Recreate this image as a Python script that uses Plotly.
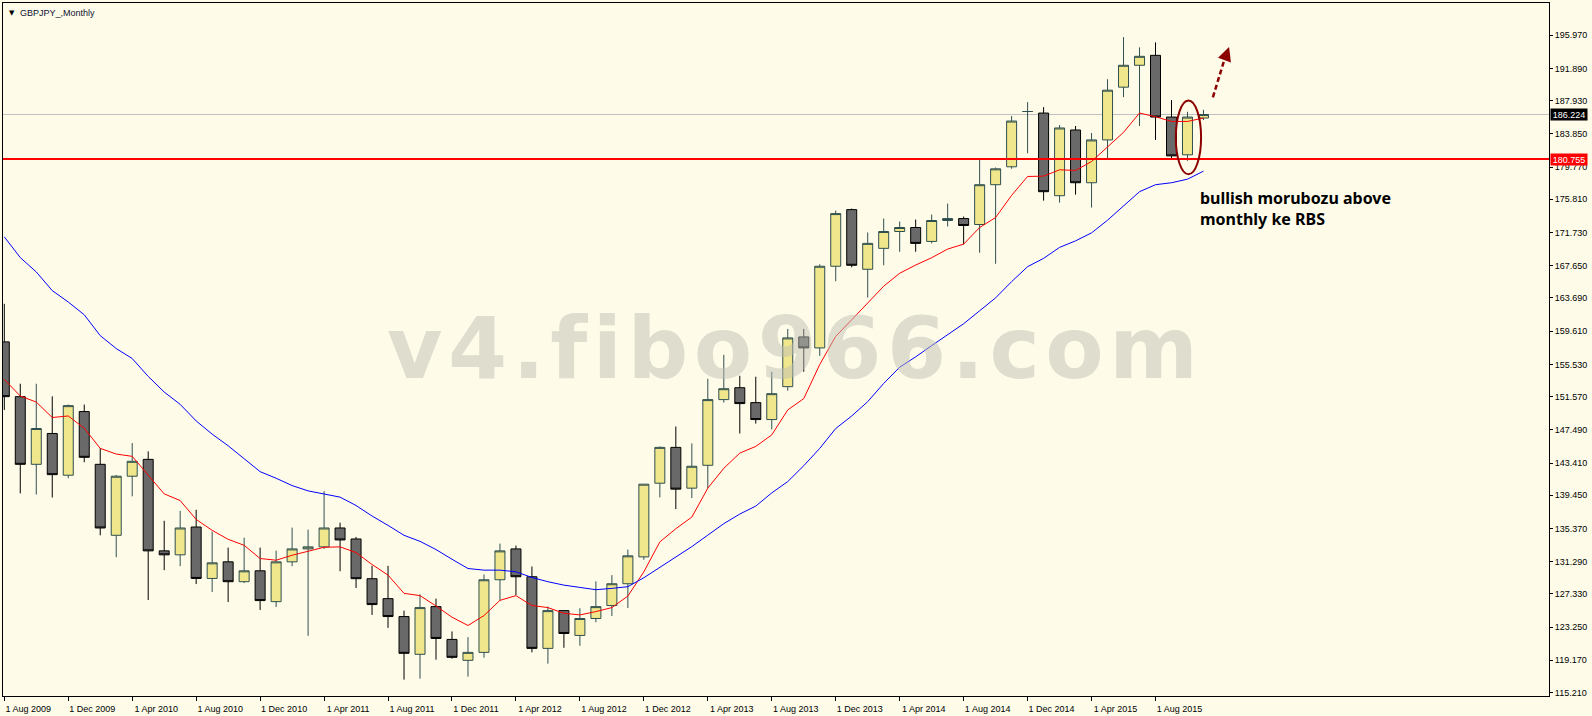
import plotly.graph_objects as go
import pandas as pd

# ---------------- data ----------------
months = pd.date_range("2009-08-01", periods=76, freq="MS")
labels = [f"1 {d.strftime('%b %Y')}" for d in months]

open_ = [158.29, 151.56, 143.25, 147.04, 141.91, 149.73, 143.25, 134.53, 141.79, 143.86,
         132.62, 132.13, 135.55, 129.23, 131.27, 128.83, 130.17, 126.38, 131.27, 132.86,
         133.11, 135.43, 134.08, 129.20, 126.75, 124.55, 119.91, 125.77, 121.74, 119.17,
         120.15, 129.07, 132.86, 129.44, 120.64, 125.28, 122.23, 124.31, 125.90, 128.58,
         131.88, 140.93, 145.33, 140.32, 143.13, 151.20, 152.66, 150.83, 148.75, 152.79,
         158.90, 157.55, 167.58, 174.54, 167.21, 169.78, 171.85, 172.34, 170.63, 173.20,
         173.44, 172.71, 177.60, 179.80, 186.59, 186.40, 176.25, 184.32, 177.84, 183.10,
         189.58, 192.27, 193.49, 185.91, 181.27, 185.79]
high = [162.97, 153.15, 153.15, 151.60, 150.59, 150.59, 145.24, 141.94, 145.86, 144.84,
        136.32, 137.54, 137.67, 134.98, 133.02, 134.24, 133.02, 132.65, 135.47, 135.22,
        139.95, 136.08, 134.33, 130.78, 130.78, 125.28, 127.28, 126.75, 122.72, 122.02,
        129.72, 133.51, 133.27, 130.70, 125.77, 125.28, 125.57, 128.87, 129.64, 132.78,
        140.81, 145.45, 147.90, 145.82, 153.76, 156.70, 154.13, 154.01, 154.62, 159.88,
        159.88, 167.82, 174.42, 174.67, 171.73, 173.44, 173.08, 173.32, 173.93, 175.28,
        173.69, 180.65, 179.71, 186.03, 187.74, 187.13, 184.93, 184.81, 183.95, 190.56,
        195.73, 194.47, 195.08, 187.99, 186.56, 186.80]
low = [149.93, 139.68, 139.54, 139.17, 141.54, 143.50, 134.53, 131.84, 139.32, 126.58,
       130.25, 130.74, 128.54, 127.56, 126.34, 128.66, 125.36, 125.72, 130.74, 122.18,
       132.86, 130.12, 128.05, 124.75, 123.16, 116.80, 116.92, 119.25, 119.37, 117.17,
       119.49, 126.51, 127.19, 120.15, 118.76, 120.71, 120.96, 123.85, 124.62, 125.60,
       131.52, 139.19, 137.75, 139.10, 140.32, 150.83, 147.04, 148.26, 147.53, 152.30,
       154.62, 156.58, 165.74, 167.45, 163.74, 167.70, 169.36, 169.36, 170.39, 172.47,
       170.27, 169.24, 167.89, 179.55, 181.46, 175.64, 175.40, 176.38, 174.79, 180.78,
       188.36, 184.81, 183.10, 180.78, 180.53, 185.54]
close = [151.56, 143.25, 147.65, 141.98, 150.46, 144.11, 135.43, 141.79, 143.62, 132.62,
         132.13, 135.43, 129.23, 131.15, 128.83, 130.17, 126.51, 131.27, 132.86, 133.11,
         135.43, 133.96, 129.20, 126.02, 124.55, 120.03, 125.65, 121.86, 119.54, 120.15,
         129.07, 132.62, 129.44, 120.64, 125.28, 122.47, 124.31, 125.77, 128.58, 132.01,
         140.81, 145.33, 140.20, 143.01, 151.20, 152.54, 150.71, 148.75, 151.93, 158.78,
         157.55, 167.58, 174.05, 167.70, 170.39, 171.85, 172.34, 170.39, 173.20, 173.44,
         172.59, 177.60, 179.55, 185.42, 186.59, 176.74, 184.57, 177.84, 183.10, 189.21,
         192.27, 193.37, 185.91, 181.14, 185.91, 186.224]

ma_fast = [153.68, 151.64, 150.90, 149.00, 149.19, 147.69, 145.21, 144.51, 144.23, 141.86,
           139.62, 138.80, 136.48, 135.14, 134.04, 133.30, 131.68, 131.47, 132.08, 132.57,
           133.06, 133.11, 132.41, 130.94, 129.64, 127.40, 127.12, 125.85, 124.47, 123.45,
           124.67, 126.54, 127.12, 125.90, 125.65, 124.95, 124.75, 125.16, 125.65, 127.07,
           130.05, 133.72, 135.34, 136.77, 140.32, 142.76, 144.63, 145.45, 146.87, 149.93,
           151.32, 155.51, 158.97, 161.01, 163.13, 165.13, 166.72, 167.73, 168.63, 169.69,
           170.30, 172.34, 173.57, 176.29, 178.61, 178.65, 179.43, 179.35, 180.45, 182.28,
           184.03, 186.40, 185.95, 185.37, 185.37, 185.79]
ma_slow = [171.19, 168.65, 166.88, 164.59, 163.19, 161.62, 159.06, 157.47, 156.25, 154.05,
           152.13, 150.62, 148.58, 146.96, 145.53, 143.90, 142.35, 141.54, 140.64, 139.99,
           139.62, 139.22, 138.19, 136.90, 135.75, 134.53, 133.79, 132.78, 131.59, 130.45,
           130.25, 130.25, 130.05, 129.35, 128.83, 128.41, 128.13, 127.85, 128.01, 128.22,
           129.32, 130.58, 131.80, 133.14, 134.55, 135.96, 137.14, 138.12, 139.74, 141.13,
           143.08, 145.21, 147.65, 149.19, 150.95, 153.19, 155.18, 156.45, 157.83, 159.18,
           160.52, 162.11, 163.70, 165.69, 167.53, 168.55, 169.90, 170.70, 171.68, 173.24,
           174.95, 176.74, 177.60, 177.84, 178.28, 179.26]

y_tick_values = [195.97, 191.89, 187.93, 183.85, 179.77, 175.81, 171.73, 167.65, 163.69,
                 159.61, 155.53, 151.57, 147.49, 143.41, 139.45, 135.37, 131.29, 127.33,
                 123.25, 119.17, 115.21]
y_tick_text = [f"{v:.3f}" for v in y_tick_values]
x_tick_labels = labels[::4]

bid_price = 186.224
level_price = 180.755
symbol_title = "GBPJPY_,Monthly"
note_text = "bullish morubozu above<br>monthly ke RBS"
watermark = "v4.fibo966.com"

# ---------------- styling ----------------
BG = "#FEFCE9"
AXIS_FONT = dict(family="Liberation Sans, Arial, sans-serif", size=9, color="black")
DARKRED = "#8B0000"

fig = go.Figure()

fig.add_trace(go.Candlestick(
    x=labels, open=open_, high=high, low=low, close=close,
    increasing=dict(fillcolor="#F0E68C", line=dict(color="#2F4F4F", width=1)),
    decreasing=dict(fillcolor="#696969", line=dict(color="#000000", width=1)),
    whiskerwidth=0, hoverinfo="skip", name="GBPJPY",
))
fig.add_trace(go.Scatter(x=labels, y=ma_fast, mode="lines",
                         line=dict(color="#FF0000", width=1), hoverinfo="skip"))
fig.add_trace(go.Scatter(x=labels, y=ma_slow, mode="lines",
                         line=dict(color="#0000FF", width=1), hoverinfo="skip"))

# horizontal levels
fig.add_shape(type="line", xref="paper", x0=0, x1=1, yref="y", y0=bid_price, y1=bid_price,
              line=dict(color="#C0C0C0", width=1), layer="below")
fig.add_shape(type="line", xref="paper", x0=0, x1=1, yref="y", y0=level_price, y1=level_price,
              line=dict(color="#FF0000", width=2), layer="above")

# ellipse around the Oct 2015 candle
fig.add_shape(type="circle", xref="x", yref="y", x0=73.27, x1=74.85, y0=178.88, y1=187.93,
              line=dict(color=DARKRED, width=2), layer="above")

# dotted arrow
fig.add_shape(type="line", xref="x", yref="y", x0=75.59, y0=188.34, x1=76.36, y1=193.3,
              line=dict(color=DARKRED, width=2.5, dash="5px,3px"), layer="above")
fig.add_annotation(x=76.6, y=194.5, xref="x", yref="y", text="", showarrow=True,
                   ax=-3, ay=8.5, arrowhead=2, arrowsize=1.1, arrowwidth=2.5,
                   arrowcolor=DARKRED)

# note text
fig.add_annotation(x=74.67, y=174.72, xref="x", yref="y", text=note_text, showarrow=False,
                   xanchor="left", yanchor="middle", align="left",
                   font=dict(family="Noto Sans, sans-serif", size=16, color="black",
                             weight="bold"))

# watermark (drawn over the chart, semi-transparent)
fig.add_annotation(x=49.45, y=157.5, xref="x", yref="y",
                   text=f"<span style='letter-spacing:5.5px'>{watermark}</span>",
                   showarrow=False, xanchor="center", yanchor="middle",
                   font=dict(family="DejaVu Sans, sans-serif", size=85,
                             color="rgba(190,190,180,0.5)", weight="bold"))

# price boxes on the right axis
fig.add_annotation(x=1, y=bid_price, xref="paper", yref="y", text=f"{bid_price:.3f}",
                   showarrow=False, xanchor="left", yanchor="middle", xshift=1,
                   bgcolor="black", width=36, height=11, borderpad=0,
                   font=dict(family="Liberation Sans, Arial, sans-serif", size=9, color="white"))
fig.add_annotation(x=1, y=level_price, xref="paper", yref="y", text=f"{level_price:.3f}",
                   showarrow=False, xanchor="left", yanchor="middle", xshift=1,
                   bgcolor="#FF0000", width=36, height=11, borderpad=0,
                   font=dict(family="Liberation Sans, Arial, sans-serif", size=9, color="white"))

# chart title
fig.add_annotation(x=0, y=1, xref="paper", yref="paper", text="▼", showarrow=False,
                   xanchor="left", yanchor="top", xshift=4, yshift=-4,
                   font=dict(family="DejaVu Sans, sans-serif", size=7, color="black"))
fig.add_annotation(x=0, y=1, xref="paper", yref="paper", text=symbol_title, showarrow=False,
                   xanchor="left", yanchor="top", xshift=15, yshift=-3,
                   font=dict(family="Liberation Sans, Arial, sans-serif", size=9, color="#101030"))

fig.update_layout(
    width=1592, height=716,
    margin=dict(l=2, r=43, t=2, b=18),
    paper_bgcolor=BG, plot_bgcolor=BG,
    showlegend=False,
    boxgap=0.375, boxgroupgap=0,
    hovermode=False,
    xaxis=dict(
        type="category", range=[-0.081, 96.61],
        rangeslider=dict(visible=False),
        tickmode="array", tickvals=x_tick_labels, ticktext=x_tick_labels,
        ticks="outside", ticklen=4, tickcolor="black", tickwidth=1,
        ticklabelshift=24,
        showline=True, linecolor="black", linewidth=1, mirror=True,
        showgrid=False, zeroline=False, tickfont=AXIS_FONT,
    ),
    yaxis=dict(
        side="right", range=[114.79, 199.92],
        tickmode="array", tickvals=y_tick_values, ticktext=y_tick_text,
        ticks="outside", ticklen=3, tickcolor="black", tickwidth=1,
        showline=True, linecolor="black", linewidth=1, mirror=True,
        showgrid=False, zeroline=False, tickfont=AXIS_FONT,
    ),
)

fig.write_html("out.html", config={"displayModeBar": False},
               post_script="document.body.style.margin='0';document.body.style.overflow='hidden';")
